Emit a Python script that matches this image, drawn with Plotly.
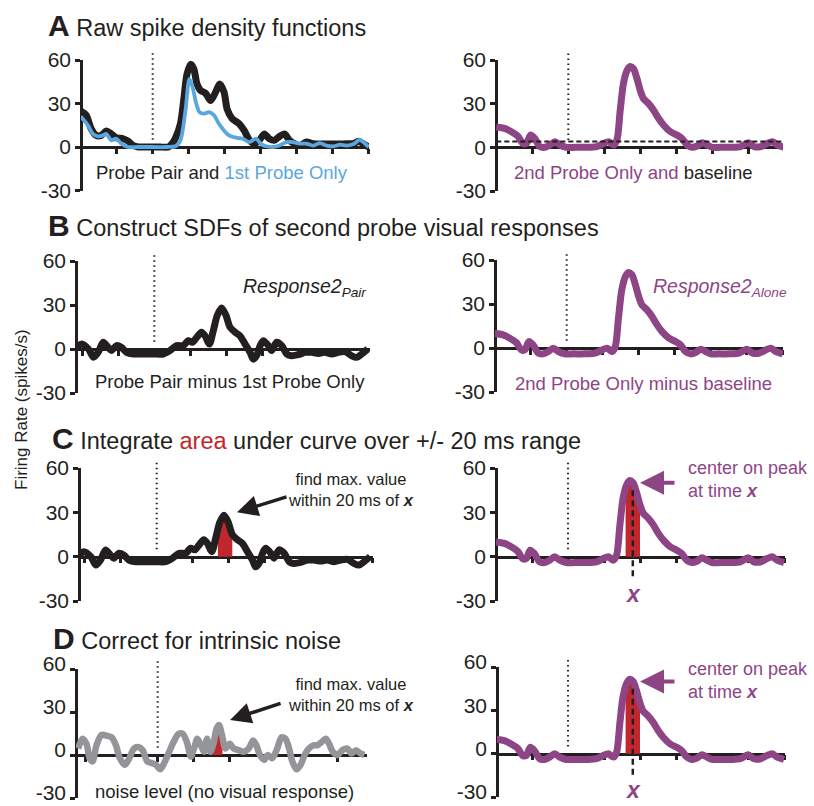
import plotly.graph_objects as go
import numpy as np

W, H = 814, 806

# ---------------- data (time in ms relative to first-probe onset, rate in spikes/s)
t_pair = [-201,-185,-171,-157,-143,-129,-115,-101,-82,-68,-54,-40,-20,0,20,44,53,63,77,86,95,105,114,123,133,147,161,175,186,198,207,221,240,254,268,282,296,310,324,338,352,366,380,394,408,427,446,464,483,502,520,539,558,572,586,600]
v_pair = [25,22,12.6,8,8,11,9,6.4,5.7,4,1,0,0,0,0,0,2,6,16,32,50,57,54,43.5,39,37,32,38,43.5,38,26,19.5,16,11.4,5,2.3,4.6,9,5.7,4.6,7.3,9,4.6,2.3,1,3.4,2.3,2,2,2,2,2.3,2.3,4,2,0]

t_first = [-200,-180,-166,-152,-138,-129,-115,-101,-87,-68,-40,0,40,63,77,91,102,111,121,130,142,156,170,184,198,212,231,250,268,287,301,315,334,352,371,390,408,427,446,464,483,502,520,539,558,575,588,600]
v_first = [21,15,9,7.3,8,9,4.6,5.7,2.3,0,0,0,0,0.5,4.6,25,47,41,30,24,23,24,22,16,11.4,8,6.4,5.7,3.4,5.7,2,0.5,0,1,3.4,3.4,2.3,2.3,1,2.7,1,0.5,1.6,1,2,5,2.7,0]

t_second = [-200,-177,-158,-140,-126,-116,-105,-93,-79,-65,-51,-37,-23,-5,20,50,79,98,112,126,135,144,153,163,172,181,191,200,209,223,237,251,265,284,302,316,330,344,358,372,386,400,423,451,479,500,516,535,553,567,581,600]
v_second = [14,13,10.7,7.7,2.7,2.7,8.4,6,0.5,0,1.6,3.9,1.6,0,0,0,0.5,2.7,3.9,1.6,5,25,43.6,52.7,55.5,54,47,39,33.4,30,25.5,19.8,15.2,10.7,8.4,6.1,1.6,0,0.9,3.2,1.6,0,0,0,0.5,3.2,0.5,0.5,2.7,3.9,1.6,0]
baseline = 4.0

t_resp_pair = [-216,-202,-183,-169,-156,-142,-128,-119,-105,-91,-77,-58,-40,-3,25,44,62,81,94,106,118,131,141,153,164,175,187,199,210,224,238,252,266,275,284,294,303,317,326,340,354,368,381,400,419,437,456,474,493,511,530,548,562,576,593]
v_resp_pair = [1,3.4,0,-5.7,-2.3,4.6,1,-1,2.3,1,-2.3,-3.4,-3.4,-3.4,-3.4,-1,2.3,2.3,5.7,4.6,8,11.5,9,3.4,12.6,23,28,23,15,11.5,9,3.4,-2.3,-6.9,-4.6,2.3,5.7,2.3,-1,4.6,2.3,-3.4,-4.6,-3.9,-2.3,-2.3,-3,-2.3,-3.4,-2.3,-1.8,-4.6,-5.7,-3.4,0]

t_noise = [-221,-209,-198,-189,-181,-170,-156,-142,-128,-116,-105,-91,-79,-66,-54,-42,-29,-17,-5,7,18,30,44,58,70,81,92,101,110,120,129,137,146,155,163,170,179,188,200,211,225,239,253,265,274,284,295,306,318,332,344,355,365,374,386,397,408,420,433,444,455,467,476,486,500,513,527,538,551,563,574]
v_noise = [4.5,11.3,7.9,-2.3,-4.5,6.8,14,13.5,12.4,6.8,-2.3,-6.8,-2.3,4.5,5.6,3.4,-4.5,-5.6,-6.8,-10,-5.6,1.1,9,14.7,14.7,9,-1.1,4.5,11.3,6.8,2.3,11.3,2.3,8,18,21,13.5,4.5,7.9,4.5,3.4,2.3,4.5,10.2,6.8,0,-3.4,0,-2.3,4.5,12.4,11.3,4.5,-4.5,-10,-6.8,0,4.5,6.8,6.8,9,11.3,7.9,2.3,0,3.4,4.5,1.1,3.4,1.1,0]

peak_time = 180
win_C_left = [170, 210]
win_C_right = [160, 200]
win_D_left = [146, 180]
win_D_right = [160, 200]

y_ticks = [-30, 0, 30, 60]
y_ticktext = ["-30", "0", "30", "60"]
x_ticks = [-200, -100, 0, 100, 200, 300, 400, 500, 600]

# ---------------- styles
BLACK = "#231f20"
BLUE = "#5aa7e0"
PURPLE = "#8e4585"
GRAY = "#939598"
RED = "#c1272d"
FONT = "Liberation Sans, Arial, Helvetica, sans-serif"

# panel geometry in pixels: left, right, y(60), y(-30), x of onset line, tick-label shift
panels = [
    (81, 369, 60, 190.5, 152.7, 0),
    (496, 783, 60, 191, 568.3, 0),
    (76, 370, 261, 393, 154.3, 0),
    (495, 783, 260, 392, 566.7, 0),
    (79, 373, 468, 601, 156.7, 0),
    (496, 785, 468, 601, 568, 0),
    (76, 367, 669, 798, 157.7, -5),
    (497, 785, 667, 797, 568, -5),
]
PX_PER_MS = 0.36


def sfx(i):
    return "" if i == 1 else str(i)


fig = go.Figure()
layout = dict(template="none", width=W, height=H, autosize=False,
              margin=dict(l=0, r=0, t=0, b=0, pad=0),
              paper_bgcolor="white", plot_bgcolor="rgba(0,0,0,0)",
              showlegend=False, font=dict(family=FONT, color=BLACK))
shapes = []
annotations = []

for i, (L, R, yt, yb, dot, lshift) in enumerate(panels, start=1):
    s = sfx(i)
    xr = [(L - dot) / PX_PER_MS, (R - dot) / PX_PER_MS]
    dom_y = [1 - yb / H, 1 - yt / H]
    zero_pos = dom_y[0] + (30 / 90) * (dom_y[1] - dom_y[0])
    layout[f"xaxis{s}"] = dict(domain=[L / W, R / W], range=xr, anchor="free", position=zero_pos,
                               automargin=False,
                               showline=True, linecolor=BLACK, linewidth=2.5,
                               ticks="outside", ticklen=5, tickwidth=2.5, tickcolor=BLACK,
                               tickvals=x_ticks, showticklabels=False, showgrid=False,
                               zeroline=False, layer="below traces", fixedrange=True)
    layout[f"yaxis{s}"] = dict(domain=dom_y, range=[-30, 60], anchor="free", position=L / W,
                               automargin=False, ticklabeloverflow="allow", ticklabelshift=lshift,
                               showline=True, linecolor=BLACK, linewidth=2.5,
                               ticks="outside", ticklen=5, tickwidth=2.5, tickcolor=BLACK,
                               tickvals=y_ticks, ticktext=y_ticktext,
                               tickfont=dict(size=21, color=BLACK, family=FONT),
                               showgrid=False, zeroline=False, layer="below traces", fixedrange=True)
    shapes.append(dict(type="line", xref=f"x{s}", yref=f"y{s} domain", x0=0, x1=0,
                       y0=(5 + 30) / 90, y1=(66 + 30) / 90,
                       line=dict(color=BLACK, width=2, dash="1.5px,3.5px")))


def line(x, y, ax, color, width, dash=None, shape="spline"):
    s = sfx(ax)
    fig.add_trace(go.Scatter(x=x, y=y, mode="lines", xaxis=f"x{s}", yaxis=f"y{s}",
                             line=dict(color=color, width=width, dash=dash, shape=shape, smoothing=0.8),
                             hoverinfo="skip"))


def red_fill(t, v, win, ax):
    s = sfx(ax)
    t = np.asarray(t, float); v = np.asarray(v, float)
    inside = (t > win[0]) & (t < win[1])
    xs = [win[0]] + list(t[inside]) + [win[1]]
    ys = list(np.interp(xs, t, v))
    ys = [max(0.0, y) for y in ys]
    fig.add_trace(go.Scatter(x=xs, y=ys, mode="lines", fill="tozeroy", fillcolor=RED,
                             xaxis=f"x{s}", yaxis=f"y{s}",
                             line=dict(color=RED, width=0.5, shape="spline", smoothing=0.8),
                             hoverinfo="skip"))


resp_alone = [v - baseline for v in v_second]

# A
line(t_pair, v_pair, 1, BLACK, 7)
line(t_first, v_first, 1, BLUE, 3.8)
line(t_second, v_second, 2, PURPLE, 7)
line([-200, 600], [baseline, baseline], 2, BLACK, 2, dash="5px,3px", shape="linear")
# B
line(t_resp_pair, v_resp_pair, 3, BLACK, 7)
line(t_second, resp_alone, 4, PURPLE, 7)
# C
red_fill(t_resp_pair, v_resp_pair, win_C_left, 5)
line(t_resp_pair, v_resp_pair, 5, BLACK, 7)
red_fill(t_second, resp_alone, win_C_right, 6)
line(t_second, resp_alone, 6, PURPLE, 7)
line([peak_time, peak_time], [45, -16], 6, BLACK, 2.5, dash="6px,4px", shape="linear")
# D
red_fill(t_noise, v_noise, win_D_left, 7)
line(t_noise, v_noise, 7, GRAY, 6.5)
red_fill(t_second, resp_alone, win_D_right, 8)
line(t_second, resp_alone, 8, PURPLE, 7)
line([peak_time, peak_time], [45, -16], 8, BLACK, 2.5, dash="6px,4px", shape="linear")


def ptext(px, py, text, size, color=BLACK, xanchor="center", align="center", angle=0):
    annotations.append(dict(xref="paper", yref="paper", x=px / W, y=1 - py / H, text=text,
                            showarrow=False, xanchor=xanchor, yanchor="middle", align=align,
                            textangle=angle, font=dict(size=size, color=color, family=FONT)))


# panel titles
TS = 23.5
ptext(46, 25, "<span style='font-size:30px'><b>A</b></span> Raw spike density functions", TS, xanchor="left", align="left")
ptext(46, 226, "<span style='font-size:30px'><b>B</b></span> Construct SDFs of second probe visual responses", TS, xanchor="left", align="left")
ptext(50, 438, f"<span style='font-size:30px'><b>C</b></span> Integrate <span style='color:{RED}'>area</span> under curve over +/- 20 ms range", TS, xanchor="left", align="left")
ptext(51, 638, "<span style='font-size:30px'><b>D</b></span> Correct for intrinsic noise", TS, xanchor="left", align="left")

# y label
ptext(21, 410, "Firing Rate (spikes/s)", 17, angle=-90)

# captions
CS = 18.5
ptext(222, 172, f"Probe Pair and <span style='color:{BLUE}'>1st Probe Only</span>", CS)
ptext(633, 172, f"<span style='color:{PURPLE}'>2nd Probe Only and </span>baseline", CS)
ptext(230, 382, "Probe Pair minus 1st Probe Only", CS)
ptext(643, 383, "2nd Probe Only minus baseline", CS, color=PURPLE)
ptext(224, 791, "noise level (no visual response)", CS)
ptext(304, 287, "<i>Response2<sub>Pair</sub></i>", 19.5)
ptext(720, 287, "<i>Response2<sub>Alone</sub></i>", 19.5, color=PURPLE)

# C/D left callouts
for cy in (490, 694):
    ptext(351, cy, "find max. value<br>within 20 ms of <b><i>x</i></b>", 16.5)
# C/D right callouts
for cy in (480, 680):
    ptext(686, cy, "center on peak<br>at time <b><i>x</i></b>", 18, color=PURPLE, xanchor="left", align="left")

# x markers under right panels C and D
for ax in (6, 8):
    annotations.append(dict(xref=f"x{ax}", yref=f"y{ax}", x=peak_time, y=-25, text="<b><i>x</i></b>",
                            showarrow=False, font=dict(size=23, color=PURPLE, family=FONT)))

# arrows
annotations.append(dict(xref="x5", yref="y5", x=223, y=30, ax=51, ay=-16, text="", showarrow=True,
                        arrowhead=2, arrowsize=1.2, arrowwidth=3.5, arrowcolor=BLACK))
annotations.append(dict(xref="x7", yref="y7", x=201, y=24.5, ax=52, ay=-17, text="", showarrow=True,
                        arrowhead=2, arrowsize=1.2, arrowwidth=3.5, arrowcolor=BLACK))
for ax in (6, 8):
    annotations.append(dict(xref=f"x{ax}", yref=f"y{ax}", x=200, y=50, ax=36, ay=0, text="", showarrow=True,
                            arrowhead=2, arrowsize=1.2, arrowwidth=4, arrowcolor=PURPLE))

layout["shapes"] = shapes
layout["annotations"] = annotations
fig.update_layout(**layout)
fig.write_html("out.html")
